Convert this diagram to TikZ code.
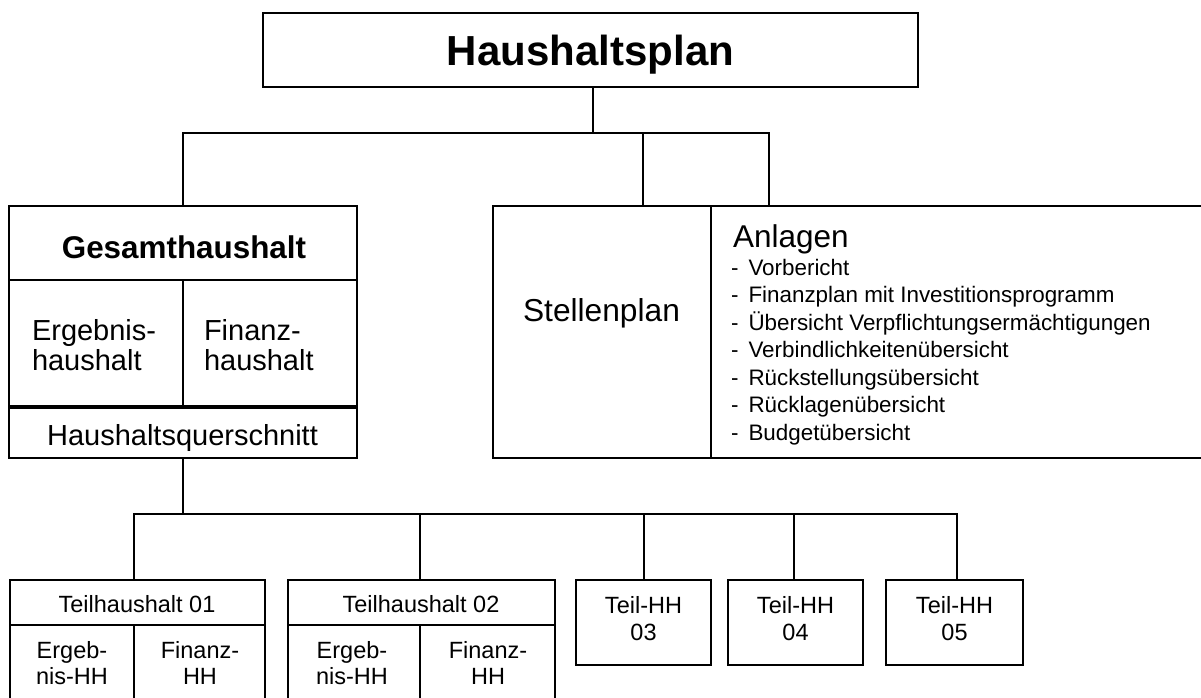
\documentclass[tikz,border=0pt]{standalone}
\usepackage{fontspec}
\setmainfont{Liberation Sans}
\usetikzlibrary{calc}
\newcommand\fz[2]{\fontsize{#1}{#2}\selectfont}
\begin{document}
\begin{tikzpicture}[x=1pt,y=-1pt,
  box/.style={draw, line width=2pt, rectangle, inner sep=0pt, outer sep=0pt, anchor=north west},
  conn/.style={line width=2pt},
  lbl/.style={inner sep=0pt, outer sep=0pt, anchor=base},
  lblw/.style={inner sep=0pt, outer sep=0pt, anchor=base west, align=left},
  lblc/.style={inner sep=0pt, outer sep=0pt, anchor=base, align=center},
]
\useasboundingbox (0,0) rectangle (1201,697);
\clip (0,0) rectangle (1201,697);
\fill[white] (0,0) rectangle (1201,697);

% top box
\node[box, minimum width=655pt, minimum height=74pt] (hp) at (263,13) {};
\node[lbl, font=\fz{42}{48}\bfseries] (hpT) at (590.5,65) {Haushaltsplan};

% Gesamthaushalt
\node[box, minimum width=348pt, minimum height=74pt] (ghtop) at (9,206) {};
\node[box, minimum width=174pt, minimum height=127pt] (erg) at (9,280) {};
\node[box, minimum width=174pt, minimum height=127pt] (fin) at (183,280) {};
\node[box, minimum width=348pt, minimum height=51pt] (hq) at (9,407) {};
\draw[line width=3.2pt] (erg.south west) -- (fin.south east);
\node[lbl, font=\fz{31.4}{36}\bfseries] (ghT) at (184,258) {Gesamthaushalt};
% base anchor of a multi-line node = baseline of its last line
\node[lblw, font=\fz{29}{30.5}] (ergT) at (32,370.5) {Ergebnis-\\haushalt};
\node[lblw, font=\fz{29}{30.5}] (finT) at (204,370.5) {Finanz-\\haushalt};
\node[lbl, font=\fz{29}{34}] (hqT) at (182.5,445) {Haushaltsquerschnitt};

% Stellenplan / Anlagen
\node[box, minimum width=218pt, minimum height=252pt] (stp) at (493,206) {};
\node[box, minimum width=495pt, minimum height=252pt] (anl) at (711,206) {};
\node[lbl, font=\fz{31.7}{36}] (stpT) at (601.5,321) {Stellenplan};
\node[lblw, font=\fz{31.5}{36}] (anlT) at (733,247) {Anlagen};
\node[lblw, font=\fz{22.4}{27.5}] (listT) at (731,440) {%
\makebox[17.5pt][l]{-}Vorbericht\\
\makebox[17.5pt][l]{-}Finanzplan mit Investitionsprogramm\\
\makebox[17.5pt][l]{-}Übersicht Verpflichtungsermächtigungen\\
\makebox[17.5pt][l]{-}Verbindlichkeitenübersicht\\
\makebox[17.5pt][l]{-}Rückstellungsübersicht\\
\makebox[17.5pt][l]{-}Rücklagenübersicht\\
\makebox[17.5pt][l]{-}Budgetübersicht};

% connectors top
\coordinate (j1) at (593,133);
\coordinate (s1) at ($(stp.north west)+(150,0)$);
\coordinate (s2) at ($(anl.north west)+(58,0)$);
\draw[conn] (hp.south -| j1) -- (j1);
\draw[conn] (ghtop.north) |- (s2 |- j1) -- (s2);
\draw[conn] (s1 |- j1) -- (s1);

% bottom boxes
\node[box, minimum width=255pt, minimum height=45pt] (th1) at (10,580) {};
\node[box, minimum width=124pt, minimum height=85pt] (e1) at (10,625) {};
\node[box, minimum width=131pt, minimum height=85pt] (f1) at (134,625) {};
\node[box, minimum width=267pt, minimum height=45pt] (th2) at (288,580) {};
\node[box, minimum width=132pt, minimum height=85pt] (e2) at (288,625) {};
\node[box, minimum width=135pt, minimum height=85pt] (f2) at (420,625) {};
\node[box, minimum width=135pt, minimum height=85pt] (t3) at (576,580) {};
\node[box, minimum width=135pt, minimum height=85pt] (t4) at (728,580) {};
\node[box, minimum width=137pt, minimum height=85pt] (t5) at (886,580) {};

\node[lbl, font=\fz{23.5}{27}] (th1T) at (137,612) {Teilhaushalt 01};
\node[lblc, font=\fz{23.5}{26}] (e1T) at (72,684) {Ergeb-\\nis-HH};
\node[lblc, font=\fz{23.5}{26}] (f1T) at (200,684) {Finanz-\\HH};
\node[lbl, font=\fz{23.5}{27}] (th2T) at (421,612) {Teilhaushalt 02};
\node[lblc, font=\fz{23.5}{26}] (e2T) at (352,684) {Ergeb-\\nis-HH};
\node[lblc, font=\fz{23.5}{26}] (f2T) at (488,684) {Finanz-\\HH};
\node[lblc, font=\fz{23.5}{27}] (t3T) at (643.5,640) {Teil-HH\\03};
\node[lblc, font=\fz{23.5}{27}] (t4T) at (795.5,640) {Teil-HH\\04};
\node[lblc, font=\fz{23.5}{27}] (t5T) at (954.5,640) {Teil-HH\\05};

% connectors bottom
\coordinate (j2) at ($(hq.south)+(0,56)$);
\coordinate (v3) at ($(t3.north)+(0.5,0)$);
\coordinate (v4) at ($(t4.north)+(-1.5,0)$);
\coordinate (v5) at ($(t5.north)+(2.5,0)$);
\draw[conn] (hq.south) -- (j2);
\draw[conn] (e1.north east |- th1.north) |- (v5 |- j2) -- (v5);
\draw[conn] (e2.north east |- th2.north) -- (e2.north east |- j2);
\draw[conn] (v3) -- (v3 |- j2);
\draw[conn] (v4) -- (v4 |- j2);
\end{tikzpicture}
\end{document}
